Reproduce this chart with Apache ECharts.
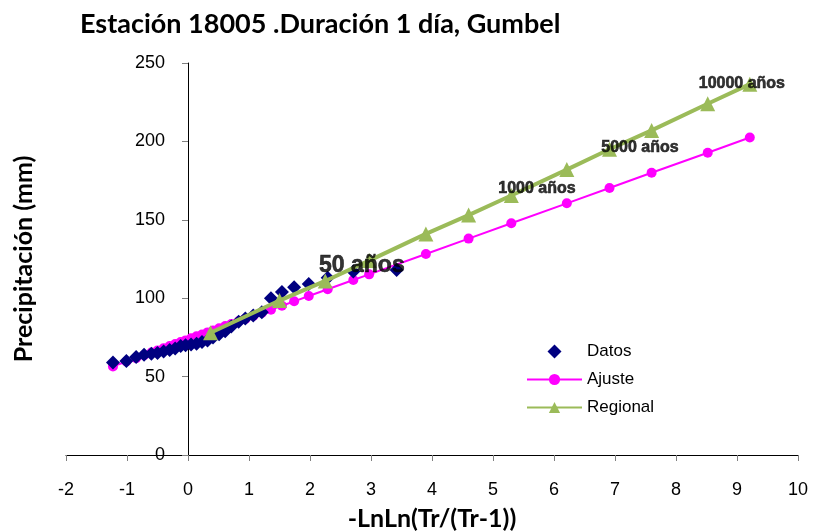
<!DOCTYPE html>
<html>
<head>
<meta charset="utf-8">
<script src="https://cdn.jsdelivr.net/npm/echarts@6/dist/echarts.min.js"></script>
<style>
  html, body { margin: 0; padding: 0; background: #fff; }
  #main { width: 814px; height: 531px; }
</style>
</head>
<body>
<div id="main"></div>
<script>
// datos observados (variable de Gumbel, precipitación mm)
var datosX = [-1.23, -1.01, -0.85, -0.72, -0.60, -0.50, -0.40, -0.30, -0.21, -0.12,
              -0.04, 0.05, 0.14, 0.23, 0.32, 0.41, 0.51, 0.61, 0.71, 0.83,
              0.94, 1.07, 1.21, 1.36, 1.54, 1.74, 1.98, 2.29, 2.71, 3.42];
var datosY = [59, 60, 62.5, 64, 64.5, 65, 66, 67, 68, 69.5,
              70, 70.5, 71, 72, 73, 75, 77, 79, 82, 85,
              87, 89, 91, 100, 104, 107, 109, 113, 117, 118];

// ajuste Gumbel
var ajusteX = [-1.23, -1.01, -0.85, -0.72, -0.60, -0.50, -0.40, -0.30, -0.21, -0.12,
               -0.04, 0.05, 0.14, 0.23, 0.32, 0.41, 0.51, 0.61, 0.71, 0.83,
               0.94, 1.07, 1.21, 1.36, 1.54, 1.74, 1.98, 2.29, 2.71, 2.97,
               3.90, 4.60, 5.30, 6.21, 6.91, 7.60, 8.52, 9.21];
var ajusteY = [56.5, 59.6, 61.8, 63.6, 65.3, 66.7, 68.1, 69.5, 70.8, 72.0,
               73.1, 74.4, 75.7, 76.9, 78.2, 79.4, 80.8, 82.2, 83.6, 85.3,
               86.8, 88.7, 90.6, 92.7, 95.2, 98.0, 101.4, 105.7, 111.6, 115.2,
               128.2, 138.0, 147.8, 160.5, 170.3, 180.0, 192.8, 202.5];

// regional
var regionalX = [0.37, 1.50, 2.25, 2.97, 3.90, 4.60, 5.30, 6.21, 6.91, 7.60, 8.52, 9.21];
var regionalY = [78, 98.5, 111, 124, 141, 153, 165.5, 182, 195, 207, 224, 236.5];

// etiquetas de periodo de retorno
var etiquetas = ['50 años', '1000 años', '5000 años', '10000 años'];
var etiquetasX = [2.85, 5.72, 7.41, 9.08];
var etiquetasY = [121, 169.6, 195.8, 236.6];
var etiquetasSize = [23, 16, 16, 16];

var xTicks = [-2, 10, 1];
var yTicks = [0, 250, 50];

function pares(xs, ys) {
    var out = [];
    for (var i = 0; i < xs.length; i++) {
        out.push([xs[i], ys[i]]);
    }
    return out;
}

var etiquetasData = [];
for (var k = 0; k < etiquetas.length; k++) {
    etiquetasData.push({
        value: [etiquetasX[k], etiquetasY[k]],
        name: etiquetas[k],
        label: { fontSize: etiquetasSize[k] }
    });
}

var gridLeft = 66, gridRight = 16;
var chartW = 814 - gridLeft - gridRight;
// eje Y cruzando en x = 0
var yAxisOffset = -chartW * (0 - xTicks[0]) / (xTicks[1] - xTicks[0]);

var myChart = echarts.init(document.getElementById('main'));
var option = {
    animation: false,
    title: {
        text: 'Estación 18005 .Duración 1 día, Gumbel',
        left: 75,
        top: 6,
        textStyle: { fontFamily: 'Lato', fontWeight: 'bold', fontSize: 27, color: '#000' }
    },
    grid: { left: gridLeft, right: gridRight, top: 63, bottom: 76, outerBoundsMode: 'none', containLabel: false },
    legend: {
        orient: 'vertical',
        left: 521,
        top: 338,
        itemWidth: 55,
        itemHeight: 14,
        itemGap: 11,
        textStyle: { fontFamily: 'Liberation Sans', fontSize: 17, color: '#000' },
        data: [
            { name: 'Datos', icon: 'path://M0,-1 L1,0 L0,1 L-1,0 Z', itemStyle: { color: '#000080', opacity: 1 } },
            'Ajuste',
            'Regional'
        ]
    },
    xAxis: {
        type: 'value',
        min: xTicks[0], max: xTicks[1], interval: xTicks[2],
        name: '-LnLn(Tr/(Tr-1))',
        nameLocation: 'middle',
        nameGap: 51,
        nameTextStyle: { fontFamily: 'Lato', fontWeight: 'bold', fontSize: 25, color: '#000' },
        axisLine: { onZero: false, lineStyle: { color: '#000', width: 1 } },
        axisTick: { show: true, length: 6, lineStyle: { color: '#808080' } },
        axisLabel: { margin: 26, fontFamily: 'Liberation Sans', fontSize: 18, color: '#000' },
        splitLine: { show: false }
    },
    yAxis: {
        type: 'value',
        position: 'left',
        offset: yAxisOffset,
        min: yTicks[0], max: yTicks[1], interval: yTicks[2],
        name: 'Precipitación (mm)',
        nameLocation: 'middle',
        nameGap: 152,
        nameTextStyle: { fontFamily: 'Lato', fontWeight: 'bold', fontSize: 25, color: '#000' },
        axisLine: { show: true, onZero: false, lineStyle: { color: '#000', width: 1 } },
        axisTick: { show: true, length: 6, lineStyle: { color: '#808080' } },
        axisLabel: { margin: 23, fontFamily: 'Liberation Sans', fontSize: 18, color: '#000' },
        splitLine: { show: false }
    },
    series: [
        {
            name: 'Ajuste',
            type: 'line',
            data: pares(ajusteX, ajusteY),
            symbol: 'circle',
            symbolSize: 10,
            itemStyle: { color: '#ff00ff' },
            lineStyle: { color: '#ff00ff', width: 2 },
            z: 2
        },
        {
            name: 'Datos',
            type: 'scatter',
            data: pares(datosX, datosY),
            symbol: 'diamond',
            symbolSize: 14,
            itemStyle: { color: '#000080', opacity: 1 },
            z: 3
        },
        {
            name: 'Regional',
            type: 'line',
            data: pares(regionalX, regionalY),
            symbol: 'triangle',
            symbolSize: 15,
            itemStyle: { color: '#9bbb59' },
            lineStyle: { color: '#9bbb59', width: 4 },
            z: 4
        },
        {
            name: 'etiquetas',
            type: 'scatter',
            data: etiquetasData,
            symbolSize: 0,
            silent: true,
            z: 6,
            label: {
                show: true,
                position: 'inside',
                formatter: '{b}',
                fontFamily: 'Liberation Sans',
                fontWeight: 'bold',
                color: '#000',
                textBorderColor: '#000',
                textBorderWidth: 0.6
            }
        }
    ]
};
myChart.setOption(option);
</script>
</body>
</html>
